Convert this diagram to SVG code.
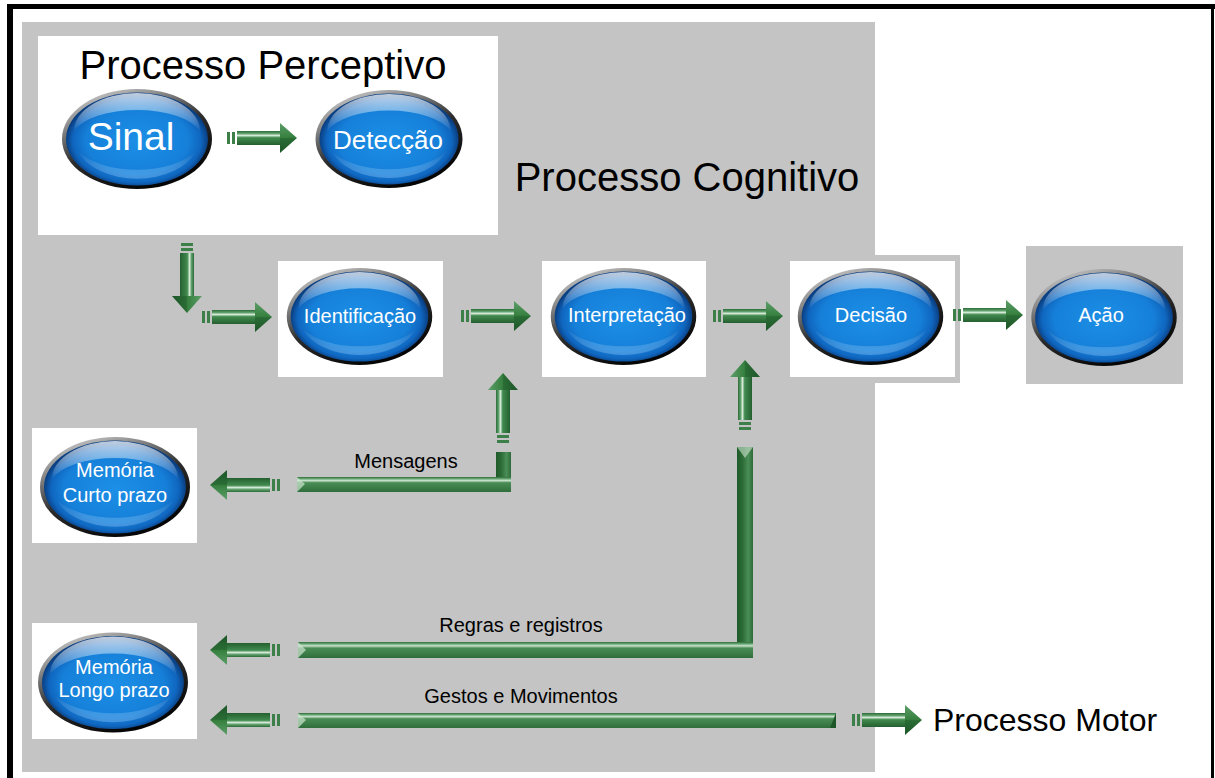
<svg xmlns="http://www.w3.org/2000/svg" xmlns:xlink="http://www.w3.org/1999/xlink" width="1215" height="778" viewBox="0 0 1215 778">
  <style>
    .panel { fill: #c4c4c4; }
    .card { fill: #ffffff; }
    .title { font-family: "Liberation Sans", Arial, sans-serif; fill: #000; }
    .bead-text { font-family: "Liberation Sans", Arial, sans-serif; fill: #ffffff; text-anchor: middle; }
    .label { font-family: "Liberation Sans", Arial, sans-serif; font-size: 20px; fill: #000; text-anchor: middle; }
    .frame { fill: #000; }
  </style>
  <defs>
    <!-- glossy blue bead -->
    <linearGradient id="rim" x1="0" y1="0" x2="0.55" y2="1">
      <stop offset="0" stop-color="#e6e6e6"/>
      <stop offset="0.3" stop-color="#8c8c8c"/>
      <stop offset="0.6" stop-color="#2c2c2c"/>
      <stop offset="1" stop-color="#050505"/>
    </linearGradient>
    <radialGradient id="blue" cx="0.5" cy="0.52" r="0.5">
      <stop offset="0" stop-color="#1c8fe6"/>
      <stop offset="0.72" stop-color="#1680d9"/>
      <stop offset="0.9" stop-color="#0f66bf"/>
      <stop offset="1" stop-color="#0a3f82"/>
    </radialGradient>
    <linearGradient id="gloss" x1="0" y1="0" x2="0" y2="1">
      <stop offset="0" stop-color="#ffffff" stop-opacity="0.75"/>
      <stop offset="1" stop-color="#ffffff" stop-opacity="0.02"/>
    </linearGradient>
    <linearGradient id="glow" x1="0" y1="0" x2="0" y2="1">
      <stop offset="0" stop-color="#ffffff" stop-opacity="0"/>
      <stop offset="1" stop-color="#9fd0ff" stop-opacity="0.35"/>
    </linearGradient>
    <symbol id="bead" viewBox="0 0 150 100" overflow="visible">
      <ellipse cx="75" cy="50" rx="75" ry="50" fill="url(#rim)"/>
      <ellipse cx="75" cy="50" rx="71" ry="46.5" fill="url(#blue)"/>
      <path d="M12,42 A63,38 0 0 1 138,42 A66,30 0 0 0 12,42 Z" fill="url(#gloss)"/>
      <path d="M16,62 A66,34 0 0 0 134,62 A62,40 0 0 1 16,62 Z" fill="url(#glow)"/>
    </symbol>

    <!-- green 3D arrow, pointing right, tail at origin -->
    <linearGradient id="arrBody" x1="0" y1="0" x2="0" y2="1">
      <stop offset="0" stop-color="#2a6b36"/>
      <stop offset="0.18" stop-color="#5f9f6c"/>
      <stop offset="0.32" stop-color="#d4ead6"/>
      <stop offset="0.48" stop-color="#418a4f"/>
      <stop offset="1" stop-color="#25602f"/>
    </linearGradient>
    <linearGradient id="arrHead" x1="0" y1="0" x2="0" y2="1">
      <stop offset="0" stop-color="#5d9e69"/>
      <stop offset="0.48" stop-color="#36803f"/>
      <stop offset="0.52" stop-color="#2a6c35"/>
      <stop offset="1" stop-color="#1d5628"/>
    </linearGradient>
    <g id="arrow">
      <rect x="0" y="-6" width="3" height="12" fill="#3d7f49"/>
      <rect x="5" y="-6" width="3" height="12" fill="#3d7f49"/>
      <rect x="10" y="-7" width="45" height="14" fill="url(#arrBody)"/>
      <polygon points="53,-15 70,0 53,15" fill="url(#arrHead)"/>
    </g>

    <!-- long bars -->
    <linearGradient id="barH" x1="0" y1="0" x2="0" y2="1">
      <stop offset="0" stop-color="#2d6d38"/>
      <stop offset="0.12" stop-color="#6aa876"/>
      <stop offset="0.24" stop-color="#c9e3cc"/>
      <stop offset="0.38" stop-color="#4a8c56"/>
      <stop offset="1" stop-color="#2f6e3a"/>
    </linearGradient>
    <linearGradient id="barV" x1="0" y1="0" x2="1" y2="0">
      <stop offset="0" stop-color="#1f5a2a"/>
      <stop offset="0.35" stop-color="#2c6c36"/>
      <stop offset="0.7" stop-color="#4b8e57"/>
      <stop offset="1" stop-color="#2d6b38"/>
    </linearGradient>
  </defs>

  <!-- page -->
  <rect x="0" y="0" width="1215" height="778" fill="#ffffff"/>
  <rect class="frame" x="7" y="4" width="1208" height="5"/>
  <rect class="frame" x="7" y="4" width="6" height="774"/>
  <rect class="frame" x="1211" y="4" width="3" height="774"/>

  <!-- cognitive process panel -->
  <g id="processo-cognitivo">
    <rect class="panel" x="22" y="22" width="853" height="750"/>
    <text class="title" x="687" y="191" font-size="40" text-anchor="middle">Processo Cognitivo</text>
  </g>

  <!-- perceptive process block -->
  <g id="processo-perceptivo">
    <rect class="card" x="38" y="36" width="460" height="199"/>
    <text class="title" x="263" y="79" font-size="40" text-anchor="middle">Processo Perceptivo</text>
  </g>

  <g id="sinal">
    <use href="#bead" x="61" y="89" width="152" height="100"/>
    <text class="bead-text" x="131" y="150" font-size="39">Sinal</text>
  </g>
  <g id="deteccao">
    <use href="#bead" x="315" y="90" width="148" height="98"/>
    <text class="bead-text" x="388" y="149" font-size="26">Detecção</text>
  </g>

  <g id="identificacao">
    <rect class="card" x="278" y="261" width="165" height="116"/>
    <use href="#bead" x="285" y="268" width="149" height="97"/>
    <text class="bead-text" x="360" y="323" font-size="20">Identificação</text>
  </g>
  <g id="interpretacao">
    <rect class="card" x="542" y="261" width="164" height="116"/>
    <use href="#bead" x="550" y="268" width="147" height="97"/>
    <text class="bead-text" x="627" y="322" font-size="20">Interpretação</text>
  </g>
  <g id="decisao">
    <rect class="panel" x="784" y="255" width="176" height="128"/>
    <rect class="card" x="790" y="261" width="165" height="116"/>
    <use href="#bead" x="797" y="268" width="147" height="97"/>
    <text class="bead-text" x="871" y="322" font-size="20">Decisão</text>
  </g>
  <g id="acao">
    <rect class="panel" x="1026" y="246" width="157" height="138"/>
    <use href="#bead" x="1030" y="269" width="148" height="97"/>
    <text class="bead-text" x="1101" y="322" font-size="20">Ação</text>
  </g>

  <g id="memoria-curto-prazo">
    <rect class="card" x="32" y="428" width="165" height="115"/>
    <use href="#bead" x="40" y="437" width="150" height="100"/>
    <text class="bead-text" x="115" y="477" font-size="20">Memória</text>
    <text class="bead-text" x="115" y="502" font-size="20">Curto prazo</text>
  </g>
  <g id="memoria-longo-prazo">
    <rect class="card" x="32" y="623" width="165" height="116"/>
    <use href="#bead" x="38" y="632" width="150" height="101"/>
    <text class="bead-text" x="114" y="674" font-size="20">Memória</text>
    <text class="bead-text" x="114" y="697" font-size="20">Longo prazo</text>
  </g>

  <g id="processo-motor">
    <text class="title" x="933" y="731" font-size="32">Processo Motor</text>
  </g>

  <!-- connectors -->
  <g id="connectors">
    <use href="#arrow" transform="translate(227,138)"/>
    <use href="#arrow" transform="translate(187,243) rotate(90)"/>
    <use href="#arrow" transform="translate(202,317)"/>
    <use href="#arrow" transform="translate(461,316)"/>
    <use href="#arrow" transform="translate(713,316)"/>
    <use href="#arrow" transform="translate(953,315)"/>

    <!-- messages loop -->
    <use href="#arrow" transform="translate(503,443) rotate(-90)"/>
    <rect x="496" y="452" width="15" height="40" fill="url(#barV)"/>
    <rect x="297" y="477" width="214" height="15" fill="url(#barH)"/>
    <polygon points="297,477 305,484 297,492" fill="#cfe6d2" opacity="0.7"/>
    <use href="#arrow" transform="translate(280,485) rotate(180)"/>

    <!-- rules and records loop -->
    <use href="#arrow" transform="translate(745,430) rotate(-90)"/>
    <rect x="737" y="447" width="16" height="211" fill="url(#barV)"/>
    <polygon points="737,447 753,447 745,458" fill="#cfe6d2" opacity="0.6"/>
    <rect x="298" y="642" width="455" height="16" fill="url(#barH)"/>
    <polygon points="298,642 306,650 298,658" fill="#cfe6d2" opacity="0.7"/>
    <use href="#arrow" transform="translate(280,650) rotate(180)"/>

    <!-- gestures and movements -->
    <rect x="298" y="713" width="538" height="15" fill="url(#barH)"/>
    <polygon points="298,713 306,720 298,728" fill="#cfe6d2" opacity="0.7"/>
    <polygon points="836,713 836,728 830,728" fill="#1d5628"/>
    <use href="#arrow" transform="translate(280,720) rotate(180)"/>
    <use href="#arrow" transform="translate(852,720)"/>
  </g>

  <!-- connector labels -->
  <g id="connector-labels">
    <text class="label" x="406" y="468">Mensagens</text>
    <text class="label" x="521" y="632">Regras e registros</text>
    <text class="label" x="521" y="703">Gestos e Movimentos</text>
  </g>
</svg>
